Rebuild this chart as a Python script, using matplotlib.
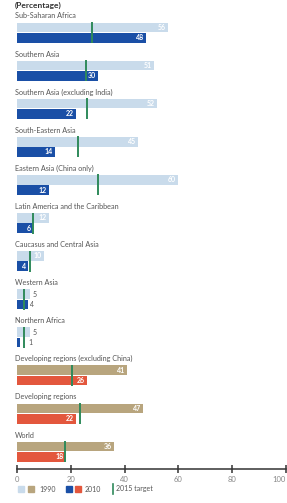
import matplotlib
matplotlib.use('Agg')
import matplotlib.pyplot as plt
from matplotlib.patches import Rectangle
from matplotlib.lines import Line2D

# extreme poverty rates (percentage)
regions = [
    'Sub-Saharan Africa',
    'Southern Asia',
    'Southern Asia (excluding India)',
    'South-Eastern Asia',
    'Eastern Asia (China only)',
    'Latin America and the Caribbean',
    'Caucasus and Central Asia',
    'Western Asia',
    'Northern Africa',
    'Developing regions (excluding China)',
    'Developing regions',
    'World',
]
v1990 = [56, 51, 52, 45, 60, 12, 10, 5, 5, 41, 47, 36]
v2010 = [48, 30, 22, 14, 12, 6, 4, 4, 1, 26, 22, 18]
target2015 = [28, 25.5, 26, 22.5, 30, 6, 5, 2.5, 2.5, 20.5, 23.5, 18]
outside_labels = ['Western Asia', 'Northern Africa']
aggregates = ['Developing regions (excluding China)', 'Developing regions', 'World']
xticks = [0, 20, 40, 60, 80, 100]

LIGHT_BLUE = '#c9dbeb'
DARK_BLUE = '#1a4fa6'
TAN = '#b8a57e'
RED = '#e3573d'
GREEN = '#2f8a5b'
TEXT = '#555555'
FONT = 'Lato'

W, H = 287, 503
fig = plt.figure(figsize=(W / 100, H / 100), dpi=100)
fig.patch.set_facecolor('white')

axis_px = 469
ax = fig.add_axes([17 / W, (H - axis_px) / H, 269 / W, axis_px / H])
ax.set_xlim(0, 100)
ax.set_ylim(axis_px, 0)  # y measured in pixels from the top
ax.patch.set_alpha(0)

step = 38.1
for i, name in enumerate(regions):
    y_lab = 16 + step * i
    if name in aggregates:
        c_old, c_new = TAN, RED
    else:
        c_old, c_new = LIGHT_BLUE, DARK_BLUE

    ax.text(-0.6, y_lab, name, fontsize=5.2, color=TEXT, family=FONT,
            va='center', ha='left')

    top_old, top_new, h = y_lab + 6.5, y_lab + 16.8, 9.7
    ax.barh(top_old + h / 2, v1990[i], height=h, left=0, color=c_old)
    ax.barh(top_new + h / 2, v2010[i], height=h, left=0, color=c_new)

    ax.vlines(target2015[i], top_old - 0.5, top_new + h + 0.5,
              color=GREEN, lw=1.4, zorder=5)

    for val, top in [(v1990[i], top_old), (v2010[i], top_new)]:
        if name in outside_labels:
            # small bars: value sits to the right, clear of the target line
            ax.text(max(val, 3.5) + 0.8, top + h / 2, str(val), fontsize=5,
                    color=TEXT, family=FONT, va='center', ha='left')
        else:
            ax.text(val - 0.8, top + h / 2, str(val), fontsize=5, color='white',
                    family=FONT, va='center', ha='right', fontweight='bold',
                    zorder=6)

for s in ['top', 'right', 'left']:
    ax.spines[s].set_visible(False)
ax.spines['bottom'].set_color('#333333')
ax.spines['bottom'].set_linewidth(1.1)
ax.set_yticks([])
ax.set_xticks(xticks)
ax.set_xticklabels([str(t) for t in xticks], fontsize=5.5, color='#888888',
                   family=FONT)
ax.tick_params(axis='x', direction='inout', length=6, width=1.1,
               color='#333333', pad=2)
ax.get_xticklabels()[-1].set_ha('right')

fig.text(15 / W, 1 - 5 / H, '(Percentage)', fontsize=6, color='#333333',
         family=FONT, fontweight='bold', va='center', ha='left')

# legend in pixel coordinates
leg = fig.add_axes([0, 0, 1, 1])
leg.set_xlim(0, W)
leg.set_ylim(H, 0)
leg.axis('off')
leg.patch.set_alpha(0)
ly = 489
sq = 6
for x0, col in [(18, LIGHT_BLUE), (28, TAN), (66, DARK_BLUE), (75, RED)]:
    leg.add_patch(Rectangle((x0, ly - sq / 2), sq, sq, color=col))
leg.text(39, ly, '1990', fontsize=5, color=TEXT, family=FONT, va='center')
leg.text(85, ly, '2010', fontsize=5, color=TEXT, family=FONT, va='center')
leg.add_line(Line2D([113, 113], [ly - 5, ly + 5], color=GREEN, lw=1.2))
leg.text(116, ly, '2015 target', fontsize=5, color=TEXT, family=FONT,
         va='center')

fig.savefig('out.png', dpi=100, facecolor='white')
